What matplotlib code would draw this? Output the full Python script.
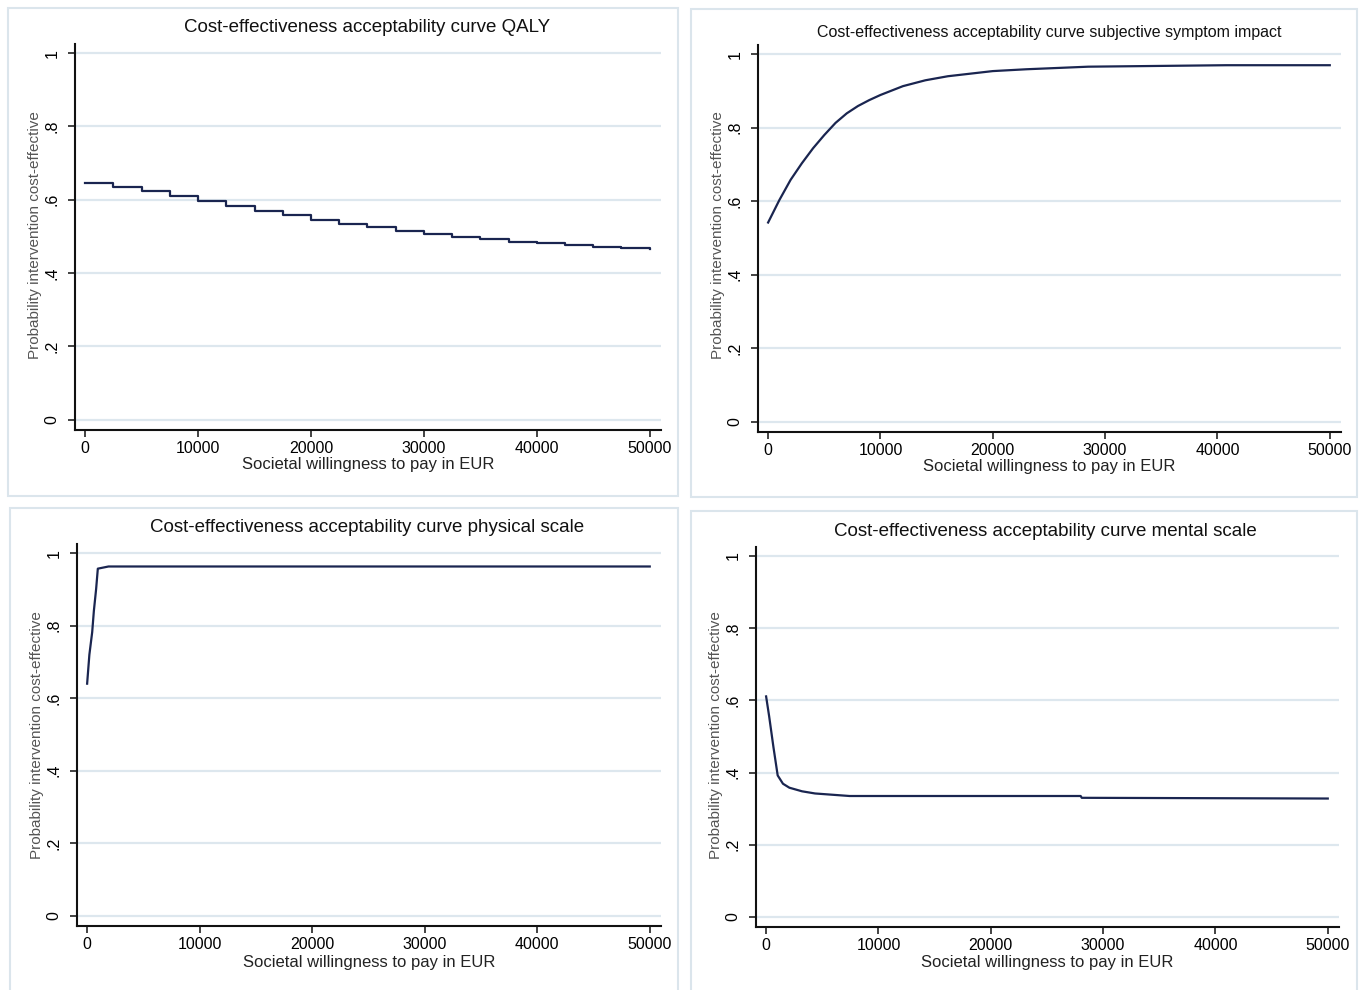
import matplotlib
matplotlib.use("Agg")
import matplotlib.pyplot as plt
from matplotlib.patches import Rectangle

plt.rcParams["font.family"] = ["Liberation Sans Narrow", "Liberation Sans", "DejaVu Sans"]

W, H = 1364, 990

# ---- data ----
qaly_wtp = [0, 2500, 5000, 7500, 10000, 12500, 15000, 17500, 20000, 22500, 25000,
            27500, 30000, 32500, 35000, 37500, 40000, 42500, 45000, 47500, 50000]
qaly_prob = [0.645, 0.636, 0.623, 0.610, 0.596, 0.583, 0.570, 0.558, 0.546, 0.535, 0.525,
             0.515, 0.507, 0.499, 0.492, 0.486, 0.481, 0.476, 0.472, 0.468, 0.466]

symptom_wtp = [0, 1000, 2000, 3000, 4000, 5000, 6000, 7000, 8000, 9000, 10000,
               12000, 14000, 16000, 18000, 20000, 23000, 28500, 40800, 50000]
symptom_prob = [0.542, 0.603, 0.658, 0.703, 0.744, 0.780, 0.813, 0.839, 0.859, 0.875, 0.889,
                0.913, 0.929, 0.940, 0.947, 0.954, 0.959, 0.966, 0.970, 0.970]

physical_wtp = [0, 200, 450, 600, 800, 950, 1900, 50000]
physical_prob = [0.640, 0.720, 0.782, 0.841, 0.901, 0.957, 0.963, 0.963]

mental_wtp = [0, 270, 650, 1030, 1500, 2070, 3200, 4360, 7430, 28000, 28100, 50000]
mental_prob = [0.611, 0.556, 0.471, 0.392, 0.369, 0.358, 0.348, 0.342, 0.335, 0.335, 0.330, 0.328]

titles = [
    "Cost-effectiveness acceptability curve QALY",
    "Cost-effectiveness acceptability curve subjective symptom impact",
    "Cost-effectiveness acceptability curve physical scale",
    "Cost-effectiveness acceptability curve mental scale",
]
xticks = [0, 10000, 20000, 30000, 40000, 50000]
yticks = [0, 0.2, 0.4, 0.6, 0.8, 1.0]
ytick_labels = ["0", ".2", ".4", ".6", ".8", "1"]

LINE = "#1a2550"
GRID = "#dde7ee"
FRAME = "#dbe5ec"

# pixel layout: (frame box), (axes box), title centre, xlabel centre, ylabel centre
panels = [
    dict(frame=(8, 8, 678, 496), ax=(75, 44, 661, 430), title=(367, 28, 13.5),
         xlab=(368, 465), ylab=(35, 235), data=(qaly_wtp, qaly_prob), steps=True),
    dict(frame=(691, 9, 1357, 497), ax=(758, 45, 1341, 432), title=(1049, 32, 11.5),
         xlab=(1049, 467), ylab=(718, 235), data=(symptom_wtp, symptom_prob), steps=False),
    dict(frame=(10, 508, 678, 992), ax=(77, 544, 661, 926), title=(367, 528, 13.5),
         xlab=(369, 962), ylab=(37, 735), data=(physical_wtp, physical_prob), steps=False),
    dict(frame=(691, 511, 1357, 992), ax=(756, 547, 1339, 927), title=(1045, 531, 13.5),
         xlab=(1047, 962), ylab=(716, 735), data=(mental_wtp, mental_prob), steps=False),
]


def fx(px):
    return px / W


def fy(py):
    return 1 - py / H


fig = plt.figure(figsize=(W / 100, H / 100), dpi=100)
fig.patch.set_facecolor("white")

for p, title in zip(panels, titles):
    x0, y0, x1, y1 = p["frame"]
    fig.patches.append(Rectangle((fx(x0), fy(y1)), fx(x1 - x0), (y1 - y0) / H,
                                 transform=fig.transFigure, fill=False,
                                 edgecolor=FRAME, linewidth=1.5))

    l, t, r, b = p["ax"]
    ax = fig.add_axes([fx(l), fy(b), fx(r - l), (b - t) / H])
    wtp, prob = p["data"]
    ax.plot(wtp, prob, color=LINE, linewidth=1.6,
            drawstyle="steps-post" if p["steps"] else "default", zorder=3)

    ax.set_xlim(-900, 51000)
    ax.set_ylim(-0.028, 1.025)
    ax.set_xticks(xticks)
    ax.set_xticklabels([str(v) for v in xticks])
    ax.set_yticks(yticks)
    ax.set_yticklabels(ytick_labels, rotation=90, va="center")
    ax.tick_params(axis="both", labelsize=11.5, length=5, width=1.2, color="#222222")
    ax.tick_params(axis="x", pad=3)
    ax.tick_params(axis="y", pad=6)
    for s in ("top", "right"):
        ax.spines[s].set_visible(False)
    for s in ("left", "bottom"):
        ax.spines[s].set_linewidth(1.5)
        ax.spines[s].set_color("#111111")
    ax.grid(axis="y", color=GRID, linewidth=1.6, zorder=0)
    ax.set_axisbelow(True)

    tx, ty, tsize = p["title"]
    fig.text(fx(tx), fy(ty), title, ha="center", va="center", fontsize=tsize, color="#111111")
    lx, ly = p["xlab"]
    fig.text(fx(lx), fy(ly), "Societal willingness to pay in EUR", ha="center", va="center",
             fontsize=12, color="#222222")
    yx, yy = p["ylab"]
    fig.text(fx(yx), fy(yy), "Probability intervention cost-effective", ha="center", va="center",
             rotation=90, fontsize=11, color="#555555")

fig.savefig("out.png", dpi=100, facecolor="white")
